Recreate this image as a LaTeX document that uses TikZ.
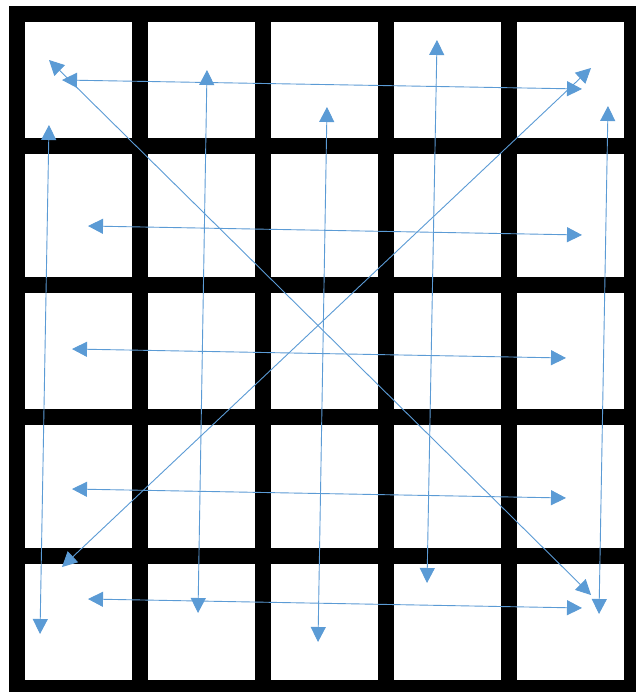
\documentclass[tikz,border=0pt]{standalone}
\usetikzlibrary{arrows.meta}
\definecolor{arrowblue}{HTML}{5B9BD5}

\begin{document}
\begin{tikzpicture}[x=1pt, y=-1pt,
    cellbox/.style={fill=white, draw=none},
    swap/.style={arrows={Triangle[length=15pt, width=15pt]-Triangle[length=15pt, width=15pt]}, arrowblue, line width=0.9pt}]
    \useasboundingbox (0,0) rectangle (636,692);

    % Black frame and 5x5 white cells
    \fill[black] (9,6) rectangle (636,692);
    \foreach \ytop/\ybot in {22/138, 154/277, 293/409, 425/548, 564/680} {
        \foreach \xl in {25, 148, 271, 394, 517} {
            \fill[cellbox] (\xl,\ytop) rectangle ++(107,\ybot-\ytop);
        }
    }

    % Arrow end points
    \coordinate (rowAl) at (62,80);   \coordinate (rowAr) at (582,89);
    \coordinate (rowBl) at (88,226);  \coordinate (rowBr) at (582,235);
    \coordinate (rowCl) at (72,349);  \coordinate (rowCr) at (566,358);
    \coordinate (rowDl) at (72,489);  \coordinate (rowDr) at (566,498);
    \coordinate (rowEl) at (88,599);  \coordinate (rowEr) at (582,608);

    \coordinate (colAt) at (49,125);  \coordinate (colAb) at (40,634);
    \coordinate (colBt) at (207,70);  \coordinate (colBb) at (198,613);
    \coordinate (colCt) at (327,107); \coordinate (colCb) at (318,642);
    \coordinate (colDt) at (437,40);  \coordinate (colDb) at (427,583);
    \coordinate (colEt) at (608,106); \coordinate (colEb) at (599,614);

    \coordinate (diagAs) at (49,60);  \coordinate (diagAe) at (591,595);
    \coordinate (diagBs) at (591,68); \coordinate (diagBe) at (62,567);

    % Row swaps
    \draw[swap] (rowAl) -- (rowAr);
    \draw[swap] (rowBl) -- (rowBr);
    \draw[swap] (rowCl) -- (rowCr);
    \draw[swap] (rowDl) -- (rowDr);
    \draw[swap] (rowEl) -- (rowEr);

    % Column swaps
    \draw[swap] (colAt) -- (colAb);
    \draw[swap] (colBt) -- (colBb);
    \draw[swap] (colCt) -- (colCb);
    \draw[swap] (colDt) -- (colDb);
    \draw[swap] (colEt) -- (colEb);

    % Diagonal swaps
    \draw[swap] (diagAs) -- (diagAe);
    \draw[swap] (diagBs) -- (diagBe);

\end{tikzpicture}
\end{document}
